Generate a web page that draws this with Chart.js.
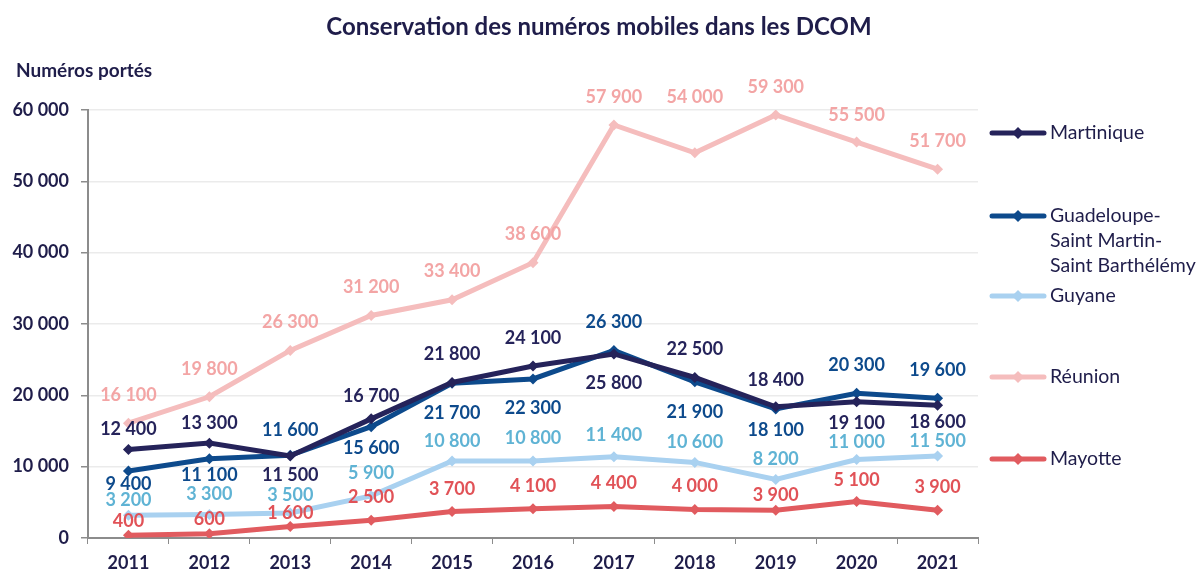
<!DOCTYPE html>
<html lang="fr">
<head>
<meta charset="UTF-8">
<title>Conservation des numéros mobiles dans les DCOM</title>
<script src="https://cdn.jsdelivr.net/npm/chart.js"></script>
<style>
  html, body { margin: 0; padding: 0; background: #fff; }
  #wrap { width: 1199px; height: 574px; position: relative; }
</style>
</head>
<body>
<div id="wrap"><canvas id="chart" width="1199" height="574"></canvas></div>
<script>
// data
const years = ['2011', '2012', '2013', '2014', '2015', '2016', '2017', '2018', '2019', '2020', '2021'];
const martinique = [12400, 13300, 11500, 16700, 21800, 24100, 25800, 22500, 18400, 19100, 18600];
const guadeloupe = [9400, 11100, 11600, 15600, 21700, 22300, 26300, 21900, 18100, 20300, 19600];
const guyane = [3200, 3300, 3500, 5900, 10800, 10800, 11400, 10600, 8200, 11000, 11500];
const reunion = [16100, 19800, 26300, 31200, 33400, 38600, 57900, 54000, 59300, 55500, 51700];
const mayotte = [400, 600, 1600, 2500, 3700, 4100, 4400, 4000, 3900, 5100, 3900];
const yTicks = [0, 10000, 20000, 30000, 40000, 50000, 60000];

// vertical shift of each value label from its point (px, negative = above)
const martiniqueDy = [-20, -20, 19, -23, -28, -28, 29, -28, -27, 21, 17];
const guadeloupeDy = [13, 16, -25, 21, 30, 29, -28, 30, 21, -28, -28];
const guyaneDy = [-15, -20, -18, -23, -20, -23, -21, -20, -20, -17, -15];
const reunionDy = [-28, -28, -28, -28, -29, -28, -28, -56, -28, -27, -28];
const mayotteDy = [-14, -15, -13, -23, -22, -23, -23, -23, -15, -21, -23];

const FONT = 'Lato, "Open Sans", sans-serif';
const TEXT = '#1f1d4a';

function fmt(v) {
    return String(v).replace(/\B(?=(\d{3})+(?!\d))/g, ' ');
}

function series(label, data, color, labelColor, dy) {
    return {
        label: label,
        data: data,
        borderColor: color,
        backgroundColor: color,
        borderWidth: 5,
        pointStyle: 'rectRot',
        pointRadius: 5.5,
        pointHoverRadius: 5.5,
        pointBorderWidth: 0,
        tension: 0,
        labelColor: labelColor,
        labelDy: dy
    };
}

// value labels next to the points
const valueLabels = {
    id: 'valueLabels',
    afterDatasetsDraw(chart) {
        const ctx = chart.ctx;
        ctx.save();
        ctx.font = 'bold 18px ' + FONT;
        ctx.textAlign = 'center';
        ctx.textBaseline = 'middle';
        chart.data.datasets.forEach((ds, i) => {
            const meta = chart.getDatasetMeta(i);
            meta.data.forEach((pt, j) => {
                ctx.fillStyle = ds.labelColor;
                ctx.fillText(fmt(ds.data[j]), pt.x, pt.y + ds.labelDy[j]);
            });
        });
        ctx.restore();
    }
};

// title, y axis title and the legend on the right
const decorations = {
    id: 'decorations',
    afterDraw(chart) {
        const ctx = chart.ctx;
        ctx.save();
        ctx.fillStyle = TEXT;
        ctx.textBaseline = 'middle';
        ctx.font = 'bold 24px ' + FONT;
        ctx.textAlign = 'center';
        ctx.fillText('Conservation des numéros mobiles dans les DCOM', 599, 27);
        ctx.font = 'bold 19px ' + FONT;
        ctx.textAlign = 'left';
        ctx.fillText('Numéros portés', 16, 71);

        const entries = [
            { i: 0, y: 133, lines: ['Martinique'] },
            { i: 1, y: 216, lines: ['Guadeloupe-', 'Saint Martin-', 'Saint Barthélémy'] },
            { i: 2, y: 296, lines: ['Guyane'] },
            { i: 3, y: 377, lines: ['Réunion'] },
            { i: 4, y: 459, lines: ['Mayotte'] }
        ];
        ctx.font = '19.5px ' + FONT;
        entries.forEach(e => {
            const ds = chart.data.datasets[e.i];
            ctx.strokeStyle = ds.borderColor;
            ctx.lineWidth = 5;
            ctx.lineCap = 'round';
            ctx.beginPath();
            ctx.moveTo(992, e.y);
            ctx.lineTo(1044, e.y);
            ctx.stroke();
            ctx.fillStyle = ds.borderColor;
            ctx.beginPath();
            ctx.moveTo(1018, e.y - 6);
            ctx.lineTo(1024, e.y);
            ctx.lineTo(1018, e.y + 6);
            ctx.lineTo(1012, e.y);
            ctx.closePath();
            ctx.fill();
            ctx.fillStyle = TEXT;
            e.lines.forEach((t, k) => ctx.fillText(t, 1050, e.y + k * 25));
        });
        ctx.restore();
    }
};

new Chart(document.getElementById('chart'), {
    type: 'line',
    data: {
        labels: years,
        datasets: [
            series('Martinique', martinique, '#25235a', '#25235a', martiniqueDy),
            series('Guadeloupe-Saint Martin-Saint Barthélémy', guadeloupe, '#0d4a8c', '#0d4a8c', guadeloupeDy),
            series('Guyane', guyane, '#a9d1f0', '#5fb3d4', guyaneDy),
            series('Réunion', reunion, '#f5bdbd', '#f3a5a5', reunionDy),
            series('Mayotte', mayotte, '#e15b5f', '#e15257', mayotteDy)
        ]
    },
    options: {
        responsive: false,
        animation: false,
        layout: { padding: { top: 110, right: 221, left: 0, bottom: 0 } },
        plugins: {
            legend: { display: false },
            tooltip: { enabled: false },
            title: { display: false }
        },
        scales: {
            x: {
                offset: true,
                grid: {
                    display: true,
                    drawOnChartArea: false,
                    offset: true,
                    tickLength: 6,
                    color: '#8c8c8c'
                },
                border: { color: '#8c8c8c', width: 2 },
                ticks: {
                    color: TEXT,
                    font: { family: FONT, size: 18, weight: 'bold' },
                    padding: 8
                },
                afterFit(scale) { scale.height = 36; }
            },
            y: {
                min: 0,
                max: 60000,
                afterBuildTicks(scale) {
                    scale.ticks = yTicks.map(v => ({ value: v }));
                },
                grid: {
                    color: '#ebebeb',
                    lineWidth: 1.5,
                    tickLength: 7,
                    tickColor: '#8c8c8c'
                },
                border: { color: '#8c8c8c', width: 2 },
                ticks: {
                    color: TEXT,
                    font: { family: FONT, size: 18, weight: 'bold' },
                    padding: 12,
                    callback: v => fmt(v)
                },
                afterFit(scale) { scale.width = 88; }
            }
        }
    },
    plugins: [valueLabels, decorations]
});
</script>
</body>
</html>
